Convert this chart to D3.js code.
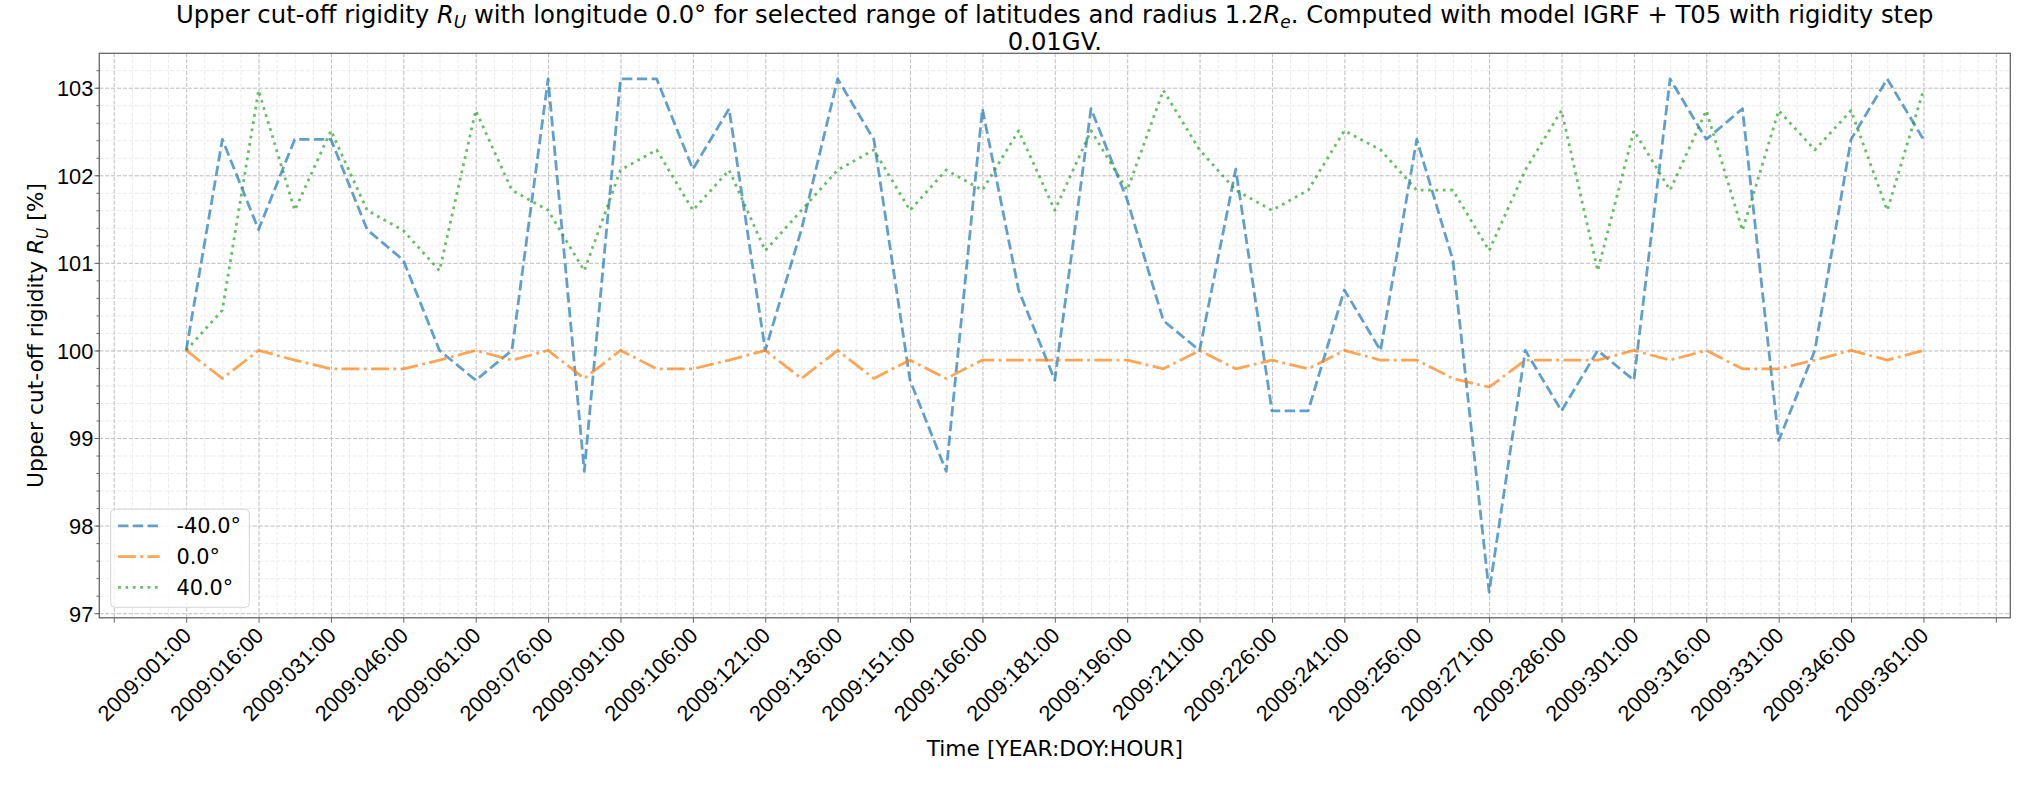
<!DOCTYPE html>
<html>
<head>
<meta charset="utf-8">
<script src="https://cdn.jsdelivr.net/npm/d3@7/dist/d3.min.js"></script>
<style>
body { margin: 0; background: #fff; }
svg { font-family: "DejaVu Sans", sans-serif; display: block; }
</style>
</head>
<body>
<svg width="2035" height="785"></svg>
<script>
// day of year 2009 for each sample (step 180 h)
var days = [1, 8.5, 16, 23.5, 31, 38.5, 46, 53.5, 61, 68.5, 76, 83.5, 91, 98.5, 106, 113.5,
            121, 128.5, 136, 143.5, 151, 158.5, 166, 173.5, 181, 188.5, 196, 203.5, 211, 218.5,
            226, 233.5, 241, 248.5, 256, 263.5, 271, 278.5, 286, 293.5, 301, 308.5, 316, 323.5,
            331, 338.5, 346, 353.5, 361];

var tickDays = [-14, 1, 16, 31, 46, 61, 76, 91, 106, 121, 136, 151, 166, 181, 196, 211, 226,
                241, 256, 271, 286, 301, 316, 331, 346, 361, 376];
var tickLabels = ["", "2009:001:00", "2009:016:00", "2009:031:00", "2009:046:00", "2009:061:00",
                  "2009:076:00", "2009:091:00", "2009:106:00", "2009:121:00", "2009:136:00",
                  "2009:151:00", "2009:166:00", "2009:181:00", "2009:196:00", "2009:211:00",
                  "2009:226:00", "2009:241:00", "2009:256:00", "2009:271:00", "2009:286:00",
                  "2009:301:00", "2009:316:00", "2009:331:00", "2009:346:00", "2009:361:00", ""];
var yTicks = [97, 98, 99, 100, 101, 102, 103];

var latLabels = ["-40.0°", "0.0°", "40.0°"];

var latM40 = [100, 102.41, 101.38, 102.41, 102.41, 101.38, 101.03, 100, 99.66, 100, 103.1, 98.62,
              103.1, 103.1, 102.07, 102.76, 100, 101.38, 103.1, 102.41, 99.66, 98.62, 102.76, 100.69,
              99.66, 102.76, 101.72, 100.34, 100, 102.07, 99.31, 99.31, 100.69, 100, 102.41, 101.03,
              97.24, 100, 99.31, 100, 99.66, 103.1, 102.41, 102.76, 98.97, 100, 102.41, 103.1, 102.41];

var lat0 = [100, 99.68, 100, 99.89, 99.79, 99.79, 99.79, 99.89, 100, 99.89, 100, 99.68, 100,
            99.79, 99.79, 99.89, 100, 99.68, 100, 99.68, 99.89, 99.68, 99.89, 99.89, 99.89, 99.89,
            99.89, 99.79, 100, 99.79, 99.89, 99.79, 100, 99.89, 99.89, 99.68, 99.58, 99.89, 99.89,
            99.89, 100, 99.89, 100, 99.79, 99.79, 99.89, 100, 99.89, 100];

var latP40 = [100, 100.46, 102.97, 101.6, 102.51, 101.6, 101.37, 100.91, 102.74, 101.83, 101.6,
              100.91, 102.06, 102.29, 101.6, 102.06, 101.14, 101.6, 102.06, 102.29, 101.6, 102.06,
              101.83, 102.51, 101.6, 102.51, 101.83, 102.97, 102.29, 101.83, 101.6, 101.83, 102.51,
              102.29, 101.83, 101.83, 101.14, 102.06, 102.74, 100.91, 102.51, 101.83, 102.74, 101.37,
              102.74, 102.29, 102.74, 101.6, 102.97];

function main() {
    var svg = d3.select("svg"),
        width = +svg.attr("width"),
        height = +svg.attr("height");

    var margin = {top: 53.3, right: 24.7, bottom: 167.2, left: 99.3};
    var w = width - margin.left - margin.right,
        h = height - margin.top - margin.bottom;

    var fs = 21.8,      // ticks + axis labels
        lfs = 20.83,    // legend
        tfs = 24.3;     // title
    var allSeries = [latM40, lat0, latP40];
    var colors = ["#1f77b4", "#ff7f0e", "#2ca02c"];
    var dashes = ["10.3 4.45", "17.8 4.45 2.78 4.45", "2.78 4.58"];

    // matplotlib style 5% margins
    var xMin = d3.min(days), xMax = d3.max(days);
    var xPad = (xMax - xMin) * 0.05;
    var yMin = d3.min(allSeries, function(s) { return d3.min(s); }),
        yMax = d3.max(allSeries, function(s) { return d3.max(s); });
    var yPad = (yMax - yMin) * 0.05;

    var x = d3.scaleLinear().domain([xMin - xPad, xMax + xPad]).range([0, w]);
    var y = d3.scaleLinear().domain([yMin - yPad, yMax + yPad]).range([h, 0]);

    var g = svg.append("g")
               .attr("transform", "translate(" + margin.left + "," + margin.top + ")");

    // minor grid
    var minorX = d3.range(-14, 380, 3.75).filter(function(d) { return d > x.domain()[0] && d < x.domain()[1]; });
    var minorY = d3.range(96.2, 103.6, 0.2).filter(function(d) { return d > y.domain()[0] && d < y.domain()[1]; });

    g.append("g")
     .attr("class", "grid minor")
     .attr("transform", "translate(0," + h + ")")
     .call(d3.axisBottom(x).tickValues(minorX).tickSize(-h).tickFormat(""));
    g.append("g")
     .attr("class", "grid minor")
     .call(d3.axisLeft(y).tickValues(minorY).tickSize(-w).tickFormat(""));

    // major grid
    g.append("g")
     .attr("class", "grid major")
     .attr("transform", "translate(0," + h + ")")
     .call(d3.axisBottom(x).tickValues(tickDays).tickSize(-h).tickFormat(""));
    g.append("g")
     .attr("class", "grid major")
     .call(d3.axisLeft(y).tickValues(yTicks).tickSize(-w).tickFormat(""));

    g.selectAll(".grid .domain").remove();
    g.selectAll(".grid.minor line").attr("stroke", "#e6e6e6").attr("stroke-width", 0.8).attr("stroke-dasharray", "4.1 1.8");
    g.selectAll(".grid.major line").attr("stroke", "#c4c4c4").attr("stroke-width", 1).attr("stroke-dasharray", "4.1 1.8");

    // lines
    var line = d3.line()
                 .x(function(d, i) { return x(days[i]); })
                 .y(function(d) { return y(d); });

    allSeries.forEach(function(s, k) {
        g.append("path")
         .datum(s)
         .attr("d", line)
         .attr("fill", "none")
         .attr("stroke", colors[k])
         .attr("stroke-opacity", 0.7)
         .attr("stroke-width", 2.78)
         .attr("stroke-linejoin", "round")
         .attr("stroke-dasharray", dashes[k]);
    });

    // axes
    var xAxis = g.append("g")
                 .attr("transform", "translate(0," + h + ")")
                 .call(d3.axisBottom(x).tickValues(tickDays).tickSize(4.9)
                         .tickFormat(function(d, i) { return tickLabels[i]; }));
    xAxis.selectAll("text")
         .attr("font-size", fs)
         .attr("fill", "#000")
         .attr("text-anchor", "end")
         .attr("dy", null)
         .attr("y", null)
         .attr("dominant-baseline", "central")
         .attr("transform", "translate(0.5,13.7) rotate(-45)");

    var yAxis = g.append("g")
                 .call(d3.axisLeft(y).tickValues(yTicks).tickSize(4.9).tickPadding(1.1)
                         .tickFormat(d3.format("d")));
    yAxis.selectAll("text").attr("font-size", fs).attr("fill", "#000").attr("dy", "0.36em");

    g.append("g")
     .call(d3.axisLeft(y).tickValues(minorY).tickSize(2.8).tickFormat(""))
     .select(".domain").remove();

    g.selectAll(".tick line").filter(function() { return this.parentNode.parentNode.getAttribute("class") == null; })
     .attr("stroke", "#666");
    g.selectAll(".domain").remove();

    // frame
    g.append("rect")
     .attr("width", w)
     .attr("height", h)
     .attr("fill", "none")
     .attr("stroke", "#666")
     .attr("stroke-width", 1.3);

    // legend
    var leg = g.append("g").attr("transform", "translate(11.4," + (h - 108.5) + ")");
    leg.append("rect")
       .attr("width", 138.6)
       .attr("height", 98)
       .attr("rx", 4)
       .attr("fill", "#fff")
       .attr("fill-opacity", 0.8)
       .attr("stroke", "#d6d6d6")
       .attr("stroke-width", 1);
    latLabels.forEach(function(lab, k) {
        var ly = 16.5 + k * 30.8;
        leg.append("line")
           .attr("x1", 7.4).attr("x2", 49)
           .attr("y1", ly).attr("y2", ly)
           .attr("stroke", colors[k])
           .attr("stroke-opacity", 0.7)
           .attr("stroke-width", 2.78)
           .attr("stroke-dasharray", dashes[k]);
        leg.append("text")
           .attr("x", 65.8)
           .attr("y", ly)
           .attr("dy", "0.35em")
           .attr("font-size", lfs)
           .text(lab);
    });

    // axis labels
    svg.append("text")
       .attr("x", margin.left + w / 2)
       .attr("y", 756)
       .attr("text-anchor", "middle")
       .attr("font-size", fs)
       .text("Time [YEAR:DOY:HOUR]");

    var yl = svg.append("text")
                .attr("transform", "translate(43.3," + (margin.top + h / 2) + ") rotate(-90)")
                .attr("text-anchor", "middle")
                .attr("font-size", fs);
    yl.append("tspan").text("Upper cut-off rigidity ");
    yl.append("tspan").attr("font-style", "italic").text("R");
    yl.append("tspan").attr("font-style", "italic").attr("font-size", fs * 0.7).attr("dy", 4.6).text("U");
    yl.append("tspan").attr("dy", -4.6).text(" [%]");

    // title
    var t1 = svg.append("text")
                .attr("x", margin.left + w / 2)
                .attr("y", 22.6)
                .attr("text-anchor", "middle")
                .attr("font-size", tfs);
    t1.append("tspan").text("Upper cut-off rigidity ");
    t1.append("tspan").attr("font-style", "italic").text("R");
    t1.append("tspan").attr("font-style", "italic").attr("font-size", tfs * 0.7).attr("dy", 5.2).text("U");
    t1.append("tspan").attr("dy", -5.2).text(" with longitude 0.0° for selected range of latitudes and radius 1.2");
    t1.append("tspan").attr("font-style", "italic").text("R");
    t1.append("tspan").attr("font-style", "italic").attr("font-size", tfs * 0.7).attr("dy", 5.2).text("e");
    t1.append("tspan").attr("dy", -5.2).text(". Computed with model IGRF + T05 with rigidity step");

    svg.append("text")
       .attr("x", margin.left + w / 2)
       .attr("y", 49.8)
       .attr("text-anchor", "middle")
       .attr("font-size", tfs)
       .text("0.01GV.");
}
main();
</script>
</body>
</html>
